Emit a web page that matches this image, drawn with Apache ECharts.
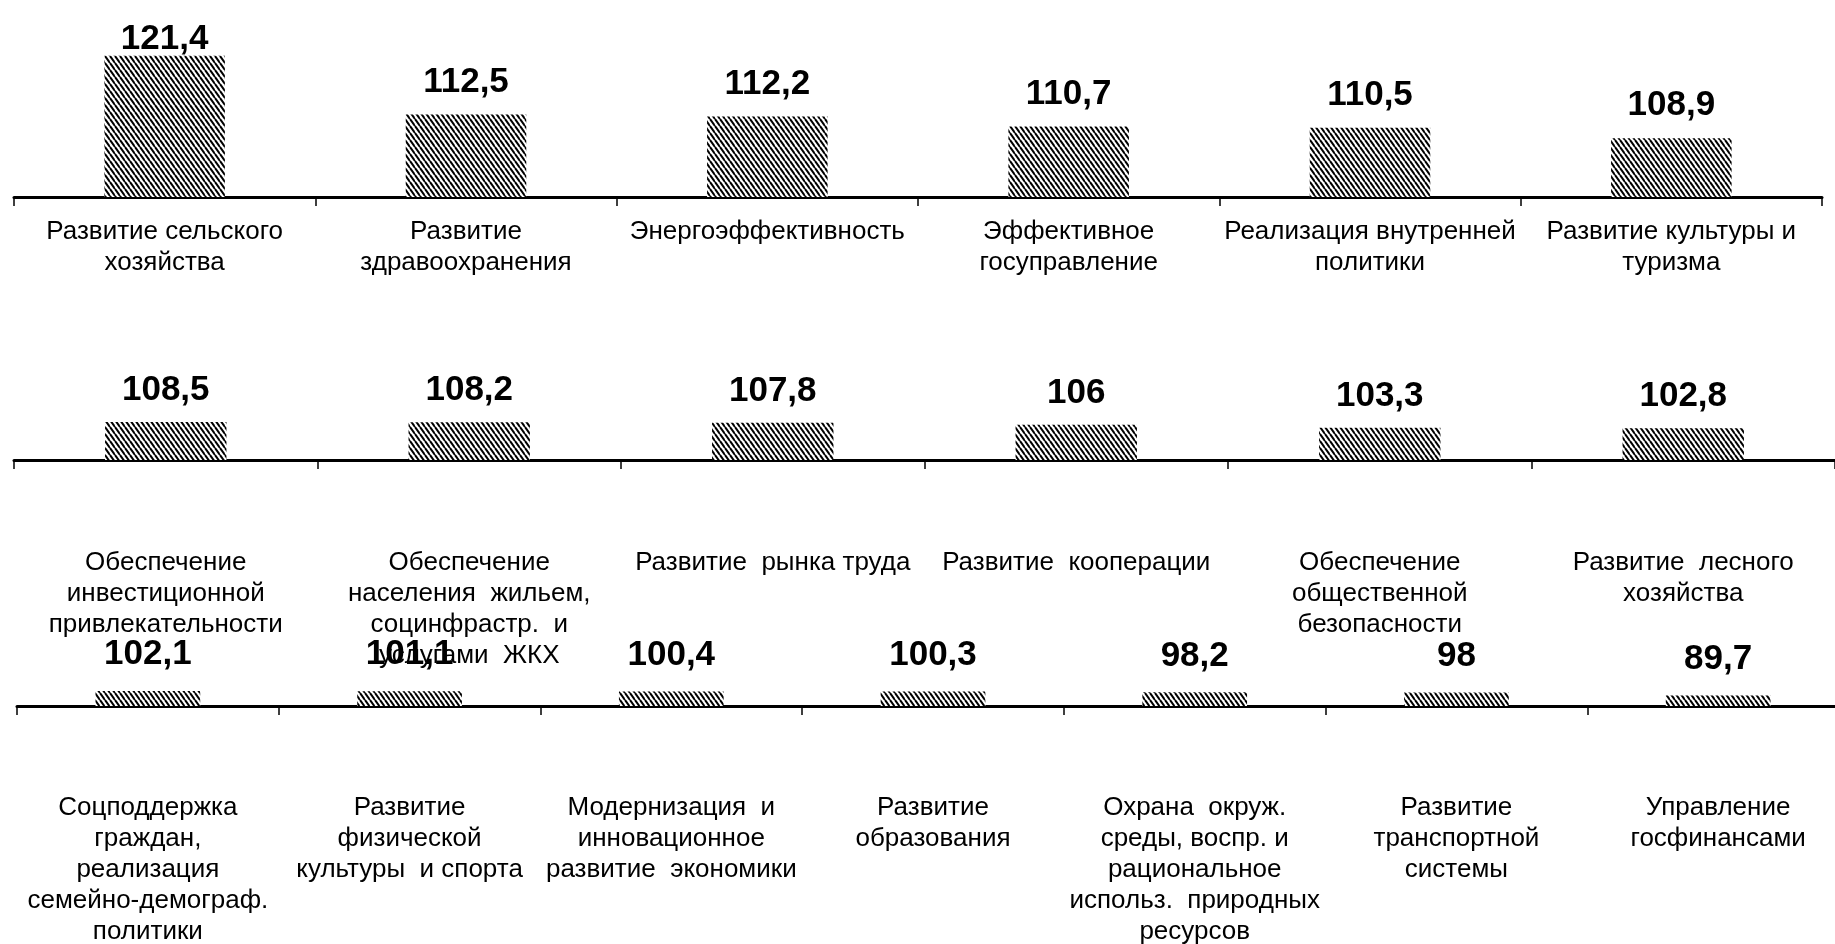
<!DOCTYPE html>
<html lang="ru">

<head>
  <meta charset="UTF-8">
  <title>Индексы госпрограмм</title>
  <style>
    html, body { margin: 0; padding: 0; background: #fff; }
    #chart { width: 1835px; height: 944px; }
  </style>
</head>

<body>
  <div id="chart"></div>

  <script src="https://cdn.jsdelivr.net/npm/echarts@6/dist/echarts.min.js"></script>
  <script>
    // ряд 1
    const names1 = [
      'Развитие сельского\nхозяйства',
      'Развитие\nздравоохранения',
      'Энергоэффективность',
      'Эффективное\nгосуправление',
      'Реализация внутренней\nполитики',
      'Развитие культуры и\nтуризма'
    ];
    const values1 = [121.4, 112.5, 112.2, 110.7, 110.5, 108.9];

    // ряд 2
    const names2 = [
      'Обеспечение\nинвестиционной\nпривлекательности',
      'Обеспечение\nнаселения  жильем,\nсоцинфрастр.  и\nуслугами  ЖКХ',
      'Развитие  рынка труда',
      'Развитие  кооперации',
      'Обеспечение\nобщественной\nбезопасности',
      'Развитие  лесного\nхозяйства'
    ];
    const values2 = [108.5, 108.2, 107.8, 106, 103.3, 102.8];

    // ряд 3
    const names3 = [
      'Соцподдержка\nграждан,\nреализация\nсемейно-демограф.\nполитики',
      'Развитие\nфизической\nкультуры  и спорта',
      'Модернизация  и\nинновационное\nразвитие  экономики',
      'Развитие\nобразования',
      'Охрана  окруж.\nсреды, воспр. и\nрациональное\nиспольз.  природных\nресурсов',
      'Развитие\nтранспортной\nсистемы',
      'Управление\nгосфинансами'
    ];
    const values3 = [102.1, 101.1, 100.4, 100.3, 98.2, 98, 89.7];

    const FONT = "'Liberation Sans', Arial, sans-serif";

    // штриховка столбцов
    function hatch() {
      const c = document.createElement('canvas');
      c.width = 5;
      c.height = 7;
      const g = c.getContext('2d');
      g.fillStyle = '#fff';
      g.fillRect(0, 0, 5, 7);
      g.strokeStyle = '#000';
      g.lineWidth = 2;
      for (const dx of [-5, 0, 5]) {
        g.beginPath();
        g.moveTo(dx, 0);
        g.lineTo(dx + 5, 7);
        g.stroke();
      }
      return c;
    }
    const pattern = { image: hatch(), repeat: 'repeat' };

    const fmt = (p) => String(p.value).replace('.', ',');

    function xAxis(idx, names, margin) {
      return {
        type: 'category',
        gridIndex: idx,
        data: names,
        axisLine: { show: true, lineStyle: { color: '#000', width: 3 } },
        axisTick: { show: true, inside: false, length: 9, lineStyle: { color: '#000', width: 1.5 } },
        axisLabel: {
          interval: 0,
          margin: margin,
          color: '#000',
          fontFamily: FONT,
          fontSize: 26,
          lineHeight: 31
        }
      };
    }

    function yAxis(idx, min, max) {
      return { type: 'value', gridIndex: idx, min: min, max: max, show: false };
    }

    function barSeries(idx, values, dist) {
      return {
        type: 'bar',
        xAxisIndex: idx,
        yAxisIndex: idx,
        data: values,
        barWidth: '40%',
        itemStyle: { color: pattern },
        label: {
          show: true,
          position: 'top',
          distance: dist,
          formatter: fmt,
          color: '#000',
          fontFamily: FONT,
          fontWeight: 'bold',
          fontSize: 35
        }
      };
    }

    window.onload = () => {
      const dom = document.getElementById('chart');
      const chart = echarts.init(dom);

      const s1 = barSeries(0, values1, 15);
      // подпись самого высокого столбца не выходит за верх рисунка
      s1.labelLayout = (p) => {
        const bottom = p.labelRect.y + p.labelRect.height;
        if (bottom < 57) {
          return {
            x: p.labelRect.x + p.labelRect.width / 2,
            y: 57,
            align: 'center',
            verticalAlign: 'bottom'
          };
        }
        return {};
      };

      const option = {
        animation: false,
        backgroundColor: '#fff',
        grid: [
          { left: 14, right: 13, top: 32, bottom: 747, outerBoundsMode: 'none' },
          { left: 14, right: 0, top: 374, bottom: 484, outerBoundsMode: 'none' },
          { left: 17, width: 1832, top: 656, bottom: 238, outerBoundsMode: 'none' }
        ],
        xAxis: [
          xAxis(0, names1, 19),
          xAxis(1, names2, 87),
          xAxis(2, names3, 86)
        ],
        yAxis: [
          yAxis(0, 100, 125),
          yAxis(1, 74, 152),
          yAxis(2, 60, 200)
        ],
        series: [
          s1,
          barSeries(1, values2, 14),
          barSeries(2, values3, 19)
        ]
      };

      chart.setOption(option);
    };
  </script>
</body>

</html>
